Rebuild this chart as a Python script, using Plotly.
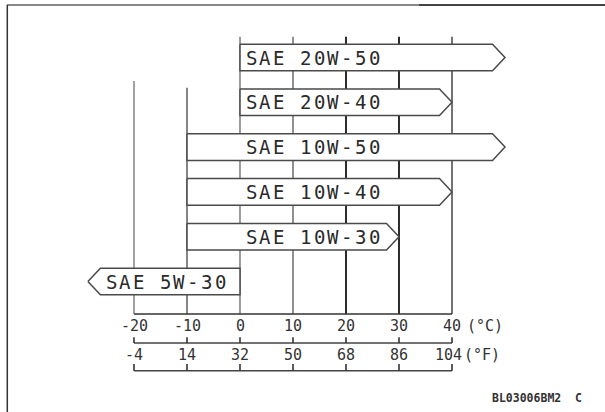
import plotly.graph_objects as go

# ---- data ----
celsius_ticks = [-20, -10, 0, 10, 20, 30, 40]
celsius_labels = ["-20", "-10", "0", "10", "20", "30", "40"]
fahrenheit_labels = ["-4", "14", "32", "50", "68", "86", "104"]
grades = ["SAE 20W-50", "SAE 20W-40", "SAE 10W-50", "SAE 10W-40", "SAE 10W-30", "SAE 5W-30"]
low_c = [0, 0, -10, -10, -10, -28.7]
high_c = [50, 40, 50, 40, 30, 0]
points_left = [False, False, False, False, False, True]
code_text = "BL03006BM2  C"

# ---- pixel <-> data mapping helpers (figure is 605x412, plot area = whole figure) ----
W, H = 605, 412
PX_PER_C = 5.3
X0_PX = 240.0          # pixel of 0 °C
ROW0_PX = 57.5         # pixel of first row centre
ROW_PX = 44.8          # pixel distance between rows


def xc(px):
    return (px - X0_PX) / PX_PER_C


def yr(px):
    return (px - ROW0_PX) / ROW_PX


fig = go.Figure()

# vertical grid lines
grid_top_px = {-20: 81, -10: 87.7}
grid_style = {-20: ("#555", 1.1), -10: ("#444", 1.3), 0: ("#666", 1.3), 10: ("#555", 1.3),
              20: ("#222", 1.9), 30: ("#222", 1.9), 40: ("#444", 1.5)}
for t in celsius_ticks:
    top = grid_top_px.get(t, 36.7)
    col, wd = grid_style[t]
    fig.add_trace(go.Scatter(x=[t, t], y=[yr(top), yr(314)], mode="lines",
                             line=dict(color=col, width=wd), hoverinfo="skip", showlegend=False))
# bottom line of grid
fig.add_trace(go.Scatter(x=[celsius_ticks[0], celsius_ticks[-1]], y=[yr(314), yr(314)], mode="lines",
                         line=dict(color="#333", width=1.6), hoverinfo="skip", showlegend=False))

# grade boxes
tip = 12.5 / PX_PER_C
half = 13.3 / ROW_PX
for i, (g, lo, hi, left) in enumerate(zip(grades, low_c, high_c, points_left)):
    r = i
    if left:
        xs = [lo, lo + tip, hi, hi, lo + tip, lo]
        ys = [r, r - half, r - half, r + half, r + half, r]
    else:
        xs = [lo, hi - tip, hi, hi - tip, lo, lo]
        ys = [r - half, r - half, r, r + half, r + half, r - half]
    fig.add_trace(go.Scatter(x=xs, y=ys, mode="lines", fill="toself", fillcolor="white",
                             line=dict(color="#4a4a4a", width=1.5), hoverinfo="skip", showlegend=False))
    start_px = 111 if left else 251.2
    for k, ch in enumerate(g):
        if ch == " ":
            continue
        fig.add_annotation(x=xc(start_px), y=r, xref="x", yref="y", text=ch, showarrow=False,
                           xshift=k * 13.65, yshift=0, xanchor="center", yanchor="middle",
                           font=dict(family="DejaVu Sans Mono", size=19, color="#2a2a2a"))

# temperature scales
for yline, ytick in [(343, 337.3), (370.7, 364)]:
    fig.add_trace(go.Scatter(x=[celsius_ticks[0], celsius_ticks[-1]], y=[yr(yline), yr(yline)],
                             mode="lines", line=dict(color="#444", width=1.4),
                             hoverinfo="skip", showlegend=False))
    for t in celsius_ticks:
        fig.add_trace(go.Scatter(x=[t, t], y=[yr(ytick), yr(yline)], mode="lines",
                                 line=dict(color="#333", width=1.6), hoverinfo="skip", showlegend=False))

lab_font = dict(family="DejaVu Sans Mono", size=15, color="#333")
for t, lc, lf in zip(celsius_ticks, celsius_labels, fahrenheit_labels):
    fig.add_annotation(x=t, y=yr(325.5), text=lc, showarrow=False, xanchor="center", yanchor="middle",
                       font=lab_font)
    fig.add_annotation(x=t, y=yr(354.5), text=lf, showarrow=False, xanchor="center", yanchor="middle",
                       xshift=-3.5 if lf == "104" else 0, font=lab_font)
fig.add_annotation(x=xc(465), y=yr(325.5), text="(°C)", showarrow=False, xanchor="left",
                   yanchor="middle", font=lab_font)
fig.add_annotation(x=xc(461.5), y=yr(354.5), text="(°F)", showarrow=False, xanchor="left",
                   yanchor="middle", font=lab_font)

# code text bottom right
fig.add_annotation(x=xc(490), y=yr(398), text="<b>" + code_text.replace("  ", "&nbsp; ") + "</b>",
                   showarrow=False, xanchor="left", yanchor="middle",
                   font=dict(family="DejaVu Sans Mono", size=11.5, color="#333"))

# frame lines
fig.add_shape(type="line", xref="paper", yref="paper", x0=7 / W, x1=1, y0=1 - 5 / H, y1=1 - 5 / H,
              line=dict(color="#888", width=2))
fig.add_shape(type="line", xref="paper", yref="paper", x0=419 / W, x1=1, y0=1 - 5 / H, y1=1 - 5 / H,
              line=dict(color="#444", width=2))
fig.add_shape(type="line", xref="paper", yref="paper", x0=7.3 / W, x1=7.3 / W, y0=0, y1=1 - 5 / H,
              line=dict(color="#333", width=1.5))

fig.update_layout(
    width=W, height=H, margin=dict(l=0, r=0, t=0, b=0),
    paper_bgcolor="white", plot_bgcolor="white",
    xaxis=dict(range=[xc(0), xc(W)], visible=False, fixedrange=True),
    yaxis=dict(range=[yr(H), yr(0)], visible=False, fixedrange=True),
    showlegend=False,
)

fig.write_html("out.html", config={"displayModeBar": False},
               post_script="document.body.style.margin='0';document.body.style.overflow='hidden';")
